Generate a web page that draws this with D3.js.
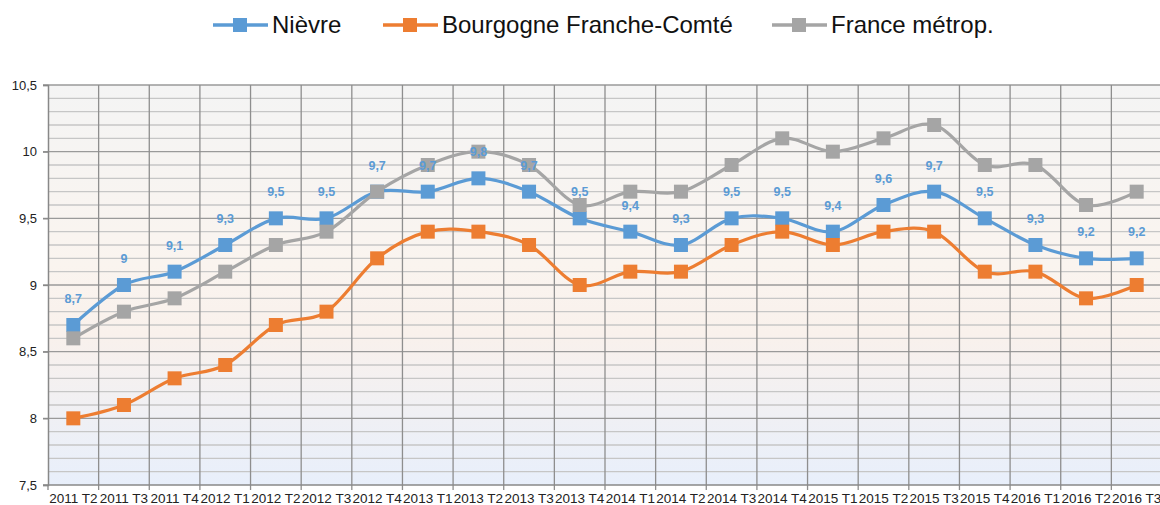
<!DOCTYPE html>
<html>
<head>
<meta charset="utf-8">
<script src="https://cdn.jsdelivr.net/npm/d3@7"></script>
<style>
  body { margin: 0; background: #fff; }
  svg { display: block; }
</style>
</head>
<body>
<div id="chart"></div>
<script>
// quarters shown on the x axis
var categories = ["2011 T2", "2011 T3", "2011 T4", "2012 T1", "2012 T2", "2012 T3", "2012 T4",
    "2013 T1", "2013 T2", "2013 T3", "2013 T4", "2014 T1", "2014 T2", "2014 T3", "2014 T4",
    "2015 T1", "2015 T2", "2015 T3", "2015 T4", "2016 T1", "2016 T2", "2016 T3"];

var nievre = [8.7, 9, 9.1, 9.3, 9.5, 9.5, 9.7, 9.7, 9.8, 9.7, 9.5, 9.4, 9.3, 9.5, 9.5, 9.4, 9.6, 9.7, 9.5, 9.3, 9.2, 9.2];
var bourgogne = [8.0, 8.1, 8.3, 8.4, 8.7, 8.8, 9.2, 9.4, 9.4, 9.3, 9.0, 9.1, 9.1, 9.3, 9.4, 9.3, 9.4, 9.4, 9.1, 9.1, 8.9, 9.0];
var france = [8.6, 8.8, 8.9, 9.1, 9.3, 9.4, 9.7, 9.9, 10.0, 9.9, 9.6, 9.7, 9.7, 9.9, 10.1, 10.0, 10.1, 10.2, 9.9, 9.9, 9.6, 9.7];

var seriesNames = ["Nièvre", "Bourgogne Franche-Comté", "France métrop."];
var yTicks = [7.5, 8, 8.5, 9, 9.5, 10, 10.5];

var width = 1160, height = 505;
var plotLeft = 48, plotRight = 1162, plotTop = 85, plotBottom = 485;

var colors = ["#5b9bd5", "#ed7d31", "#a5a5a5"];
var series = [nievre, bourgogne, france];

var svg = d3.select("#chart").append("svg")
        .attr("width", width)
        .attr("height", height);

var x = d3.scaleBand().domain(categories).range([plotLeft, plotRight]);
var y = d3.scaleLinear().domain([7.5, 10.5]).range([plotBottom, plotTop]);

// background gradient
var defs = svg.append("defs");
var grad = defs.append("linearGradient")
        .attr("id", "bg")
        .attr("x1", 0).attr("y1", 0).attr("x2", 0).attr("y2", 1);
grad.append("stop").attr("offset", "0%").attr("stop-color", "#f4f4f4");
grad.append("stop").attr("offset", "45%").attr("stop-color", "#faf4ef");
grad.append("stop").attr("offset", "62%").attr("stop-color", "#f9f1ec");
grad.append("stop").attr("offset", "100%").attr("stop-color", "#e8effb");

svg.append("rect")
        .attr("x", plotLeft).attr("y", plotTop)
        .attr("width", plotRight - plotLeft).attr("height", plotBottom - plotTop)
        .attr("fill", "url(#bg)");

// minor horizontal grid every 0.1
var minor = d3.range(76, 105).map(function (d) { return d / 10; })
        .filter(function (d) { return Math.round(d * 10) % 5 != 0; });
svg.append("g").selectAll("line")
        .data(minor)
        .enter().append("line")
        .attr("x1", plotLeft).attr("x2", plotRight)
        .attr("y1", function (d) { return y(d); })
        .attr("y2", function (d) { return y(d); })
        .attr("stroke", "#c6c6c6")
        .attr("stroke-width", 1.3);

svg.append("g").selectAll("line")
        .data(yTicks.slice(1))
        .enter().append("line")
        .attr("x1", plotLeft - 5).attr("x2", plotRight)
        .attr("y1", function (d) { return y(d); })
        .attr("y2", function (d) { return y(d); })
        .attr("stroke", "#9a9a9a")
        .attr("stroke-width", 1.3);

// vertical grid at category boundaries
svg.append("g").selectAll("line")
        .data(categories.slice(1))
        .enter().append("line")
        .attr("x1", function (d) { return x(d); })
        .attr("x2", function (d) { return x(d); })
        .attr("y1", plotTop).attr("y2", plotBottom + 5)
        .attr("stroke", "#8e8e8e")
        .attr("stroke-width", 1.3);

// axes
var yAxis = svg.append("g")
        .attr("transform", "translate(" + plotLeft + ",0)")
        .call(d3.axisLeft(y).tickValues(yTicks).tickSize(5).tickPadding(6)
                .tickFormat(function (d) { return String(d).replace(".", ","); }));
yAxis.select(".domain").attr("stroke", "#888").attr("stroke-width", 1.5);
yAxis.selectAll(".tick line").attr("stroke", "#888").attr("stroke-width", 1.3);
yAxis.selectAll("text")
        .attr("font-family", "Liberation Sans, Arial, sans-serif")
        .attr("font-size", 13)
        .attr("fill", "#222");

svg.append("line")
        .attr("x1", plotLeft - 5).attr("x2", plotRight)
        .attr("y1", plotBottom).attr("y2", plotBottom)
        .attr("stroke", "#888").attr("stroke-width", 1.5);
svg.append("line")
        .attr("x1", plotLeft).attr("x2", plotLeft)
        .attr("y1", plotBottom).attr("y2", plotBottom + 5)
        .attr("stroke", "#888").attr("stroke-width", 1.3);

svg.append("g").selectAll("text")
        .data(categories)
        .enter().append("text")
        .attr("x", function (d) { return x(d) + x.bandwidth() / 2; })
        .attr("y", 503)
        .attr("text-anchor", "middle")
        .attr("font-family", "Liberation Sans, Arial, sans-serif")
        .attr("font-size", 13.5)
        .attr("fill", "#222")
        .text(function (d) { return d; });

// lines + markers
var line = d3.line()
        .x(function (d, i) { return x(categories[i]) + x.bandwidth() / 2; })
        .y(function (d) { return y(d); })
        .curve(d3.curveCatmullRom.alpha(0));

series.forEach(function (s, k) {
    var g = svg.append("g");
    g.append("path")
            .datum(s)
            .attr("d", line)
            .attr("fill", "none")
            .attr("stroke", colors[k])
            .attr("stroke-width", 3.2);
    g.selectAll("rect")
            .data(s)
            .enter().append("rect")
            .attr("x", function (d, i) { return x(categories[i]) + x.bandwidth() / 2 - 7; })
            .attr("y", function (d) { return y(d) - 7; })
            .attr("width", 14).attr("height", 14)
            .attr("fill", colors[k]);
});

// data labels for Nièvre
svg.append("g").selectAll("text")
        .data(nievre)
        .enter().append("text")
        .attr("x", function (d, i) { return x(categories[i]) + x.bandwidth() / 2; })
        .attr("y", function (d) { return y(d) - 22; })
        .attr("text-anchor", "middle")
        .attr("font-family", "Liberation Sans, Arial, sans-serif")
        .attr("font-weight", "bold")
        .attr("font-size", 12.5)
        .attr("fill", colors[0])
        .text(function (d) { return String(d).replace(".", ","); });

// legend
var legendX = [213, 383, 772];
var legend = svg.append("g").selectAll("g")
        .data(seriesNames)
        .enter().append("g")
        .attr("transform", function (d, i) { return "translate(" + legendX[i] + ",25)"; });
legend.append("line")
        .attr("x1", 0).attr("x2", 55)
        .attr("stroke", function (d, i) { return colors[i]; })
        .attr("stroke-width", 3.5);
legend.append("rect")
        .attr("x", 20).attr("y", -7)
        .attr("width", 14).attr("height", 14)
        .attr("fill", function (d, i) { return colors[i]; });
legend.append("text")
        .attr("x", 59)
        .attr("y", 8)
        .attr("font-family", "Liberation Sans Narrow, Arial Narrow, sans-serif")
        .attr("font-size", 24)
        .attr("fill", "#111")
        .text(function (d) { return d; });
</script>
</body>
</html>
